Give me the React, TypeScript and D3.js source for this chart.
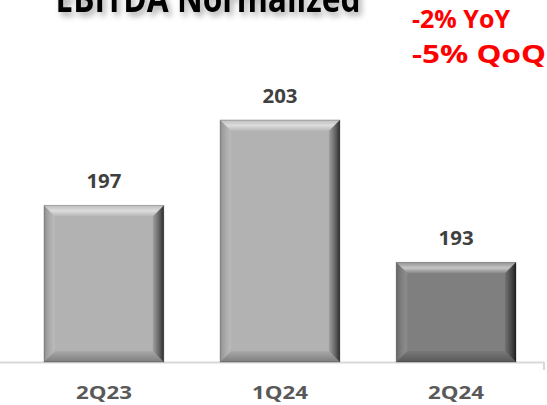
import React from "react";
import * as d3 from "d3";

const quarters = ["2Q23", "1Q24", "2Q24"];
const ebitda = [197, 203, 193];
const barColors = ["#b2b2b2", "#b2b2b2", "#7f7f7f"];
const changes = ["-2% YoY", "-5% QoQ"];
const title = "EBITDA Normalized";

const W = 547;
const H = 405;
const baseY = 362;

export default function App() {
  const x = d3.scaleBand().domain(quarters).range([0, 560]).paddingInner(0.32).paddingOuter(0.25);
  const y = d3.scaleLinear().domain([186, 203]).range([baseY, 120]);
  const font = "'Open Sans', 'Liberation Sans', sans-serif";
  const bev = 11;

  return (
    <svg width={W} height={H} style={{ position: "absolute", left: 0, top: 0, background: "#fff" }}>
      <defs>
        <filter id="shadow" x="-10%" y="-50%" width="120%" height="200%">
          <feGaussianBlur in="SourceAlpha" stdDeviation="3" />
          <feOffset dx="3" dy="4" result="b" />
          <feComponentTransfer><feFuncA type="linear" slope="0.35" /></feComponentTransfer>
          <feMerge><feMergeNode /><feMergeNode in="SourceGraphic" /></feMerge>
        </filter>
        <linearGradient id="topg" x1="0" y1="0" x2="0" y2="1">
          <stop offset="0" stopColor="#fff" stopOpacity="0.15" />
          <stop offset="0.5" stopColor="#fff" stopOpacity="0.55" />
          <stop offset="1" stopColor="#fff" stopOpacity="0.05" />
        </linearGradient>
        <linearGradient id="rightg" x1="0" y1="0" x2="1" y2="0">
          <stop offset="0" stopColor="#000" stopOpacity="0.1" />
          <stop offset="0.6" stopColor="#000" stopOpacity="0.45" />
          <stop offset="1" stopColor="#000" stopOpacity="0.75" />
        </linearGradient>
        <linearGradient id="leftg" x1="0" y1="0" x2="1" y2="0">
          <stop offset="0" stopColor="#000" stopOpacity="0.2" />
          <stop offset="1" stopColor="#fff" stopOpacity="0.1" />
        </linearGradient>
        <linearGradient id="botg" x1="0" y1="0" x2="0" y2="1">
          <stop offset="0" stopColor="#000" stopOpacity="0.05" />
          <stop offset="1" stopColor="#000" stopOpacity="0.3" />
        </linearGradient>
      </defs>

      <text x={208} y={12} textAnchor="middle" fontFamily={font} fontWeight="bold" fontSize={38}
        fill="#000" filter="url(#shadow)" textLength={305} lengthAdjust="spacingAndGlyphs">{title}</text>

      {changes.map((c, i) => (
        <text key={c} x={412} y={28 + i * 35} fontFamily={font} fontWeight="bold" fontSize={25} fill="#ff0000"
          textLength={i === 0 ? 98 : 134} lengthAdjust="spacingAndGlyphs">{c}</text>
      ))}

      <line x1={0} x2={544} y1={baseY + 0.5} y2={baseY + 0.5} stroke="#d9d9d9" strokeWidth={2} />
      <line x1={544} x2={544} y1={baseY} y2={370} stroke="#d9d9d9" strokeWidth={2} />

      {quarters.map((q, i) => {
        const x0 = x(q)!;
        const bw = x.bandwidth();
        const x1 = x0 + bw;
        const y0 = y(ebitda[i]);
        const y1 = baseY;
        const cx = x0 + bw / 2;
        return (
          <g key={q}>
            <rect x={x0} y={y0} width={bw} height={y1 - y0} fill={barColors[i]} />
            <polygon points={`${x0},${y0} ${x1},${y0} ${x1 - bev},${y0 + bev} ${x0 + bev},${y0 + bev}`} fill="url(#topg)" />
            <polygon points={`${x0},${y0} ${x0 + bev},${y0 + bev} ${x0 + bev},${y1 - bev} ${x0},${y1}`} fill="url(#leftg)" />
            <polygon points={`${x1},${y0} ${x1},${y1} ${x1 - bev},${y1 - bev} ${x1 - bev},${y0 + bev}`} fill="url(#rightg)" />
            <polygon points={`${x0},${y1} ${x0 + bev},${y1 - bev} ${x1 - bev},${y1 - bev} ${x1},${y1}`} fill="url(#botg)" />
            <rect x={x0} y={y0} width={bw} height={y1 - y0} fill="none" stroke="#000" strokeOpacity={0.25} strokeWidth={1} />
            <text x={cx} y={y0 - 17} textAnchor="middle" fontFamily={font} fontWeight="bold" fontSize={20} fill="#404040"
              textLength={35} lengthAdjust="spacingAndGlyphs">
              {ebitda[i]}
            </text>
            <text x={cx} y={399} textAnchor="middle" fontFamily={font} fontWeight="bold" fontSize={18} fill="#595959"
              textLength={56} lengthAdjust="spacingAndGlyphs">
              {q}
            </text>
          </g>
        );
      })}
    </svg>
  );
}
